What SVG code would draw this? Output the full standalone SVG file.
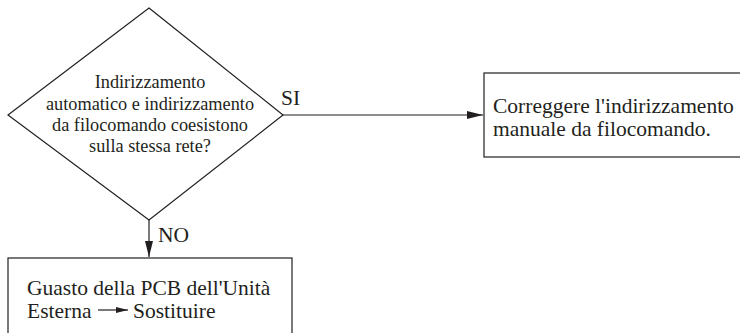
<svg xmlns="http://www.w3.org/2000/svg" width="740" height="333" viewBox="0 0 740 333">
  <defs>
    <marker id="arrow" viewBox="0 0 16 8" refX="16" refY="4" markerWidth="16" markerHeight="8" markerUnits="userSpaceOnUse" orient="auto">
      <path d="M0,0 L16,4 L0,8 Z" fill="#231f20"/>
    </marker>
    <marker id="arrow-small" viewBox="0 0 12 6" refX="12" refY="3" markerWidth="12" markerHeight="6" markerUnits="userSpaceOnUse" orient="auto">
      <path d="M0,0 L12,3 L0,6 Z" fill="#231f20"/>
    </marker>
  </defs>
  <style>
    .shape { fill: #fff; stroke: #231f20; stroke-width: 1.2; }
    .conn { stroke: #231f20; stroke-width: 1.2; fill: none; }
    text { font-family: "Liberation Serif", "Times New Roman", serif; font-size: 18.3px; fill: #231f20; }
    .box-text { font-size: 21.5px; }
  </style>
  <rect width="740" height="333" fill="#fff"/>

  <g id="decision">
    <polygon class="shape" points="149,8 283,115 149,220 8,115"/>
    <text x="150" y="88" text-anchor="middle">Indirizzamento</text>
    <text x="150" y="110" text-anchor="middle">automatico e indirizzamento</text>
    <text x="150" y="131" text-anchor="middle">da filocomando coesistono</text>
    <text x="150" y="152" text-anchor="middle">sulla stessa rete?</text>
  </g>

  <g id="fix-manual">
    <rect class="shape" x="484" y="73" width="262" height="84"/>
    <text class="box-text" x="493" y="113">Correggere l'indirizzamento</text>
    <text class="box-text" x="493" y="136">manuale da filocomando.</text>
  </g>

  <g id="replace-pcb">
    <rect class="shape" x="8" y="258" width="284" height="84"/>
    <text class="box-text" x="27" y="295">Guasto della PCB dell'Unità</text>
    <text class="box-text" x="27" y="318">Esterna</text>
    <line class="conn" x1="98" y1="310" x2="128" y2="310" marker-end="url(#arrow-small)"/>
    <text class="box-text" x="133" y="318">Sostituire</text>
  </g>

  <g id="connectors">
    <line class="conn" x1="283" y1="115" x2="483" y2="115" marker-end="url(#arrow)"/>
    <text class="box-text" x="281" y="105">SI</text>
    <line class="conn" x1="149" y1="220" x2="149" y2="257" marker-end="url(#arrow)"/>
    <text class="box-text" x="158" y="242">NO</text>
  </g>
</svg>
